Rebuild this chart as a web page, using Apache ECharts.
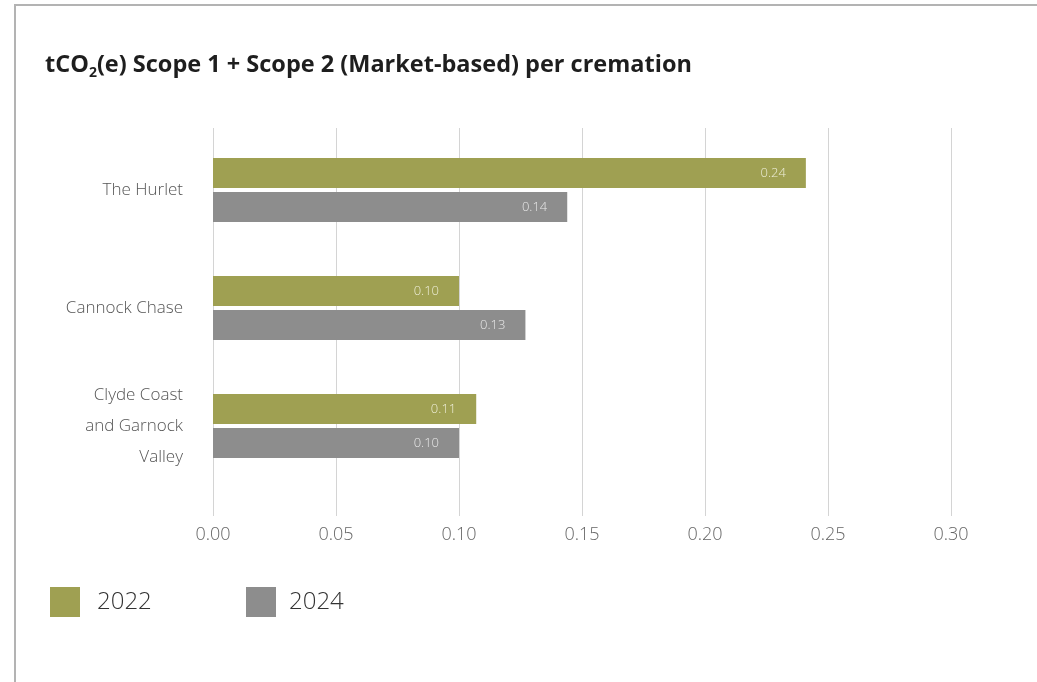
<!DOCTYPE html>
<html><head><meta charset="utf-8">
<script src="https://cdn.jsdelivr.net/npm/echarts@6/dist/echarts.min.js"></script>
<style>html,body{margin:0;padding:0;background:#fff}#c{width:1037px;height:682px}</style>
</head><body><div id="c"></div>
<script>
const categories = ['The Hurlet', 'Cannock Chase', 'Clyde Coast\nand Garnock\nValley'];
const values2022 = [0.241, 0.100, 0.107];
const values2024 = [0.144, 0.127, 0.100];
const seriesNames = ['2022', '2024'];
const xTicks = [0, 0.05, 0.10, 0.15, 0.20, 0.25, 0.30];
const colors = ['#9fa052', '#8d8d8d'];
const FONT = '"Open Sans", "DejaVu Sans", sans-serif';

const chart = echarts.init(document.getElementById('c'));
const labelCfg = (c) => ({
  show: true, position: 'insideRight', distance: 20,
  formatter: p => p.value.toFixed(2),
  color: c, fontSize: 13, fontFamily: FONT, fontWeight: 300
});
chart.setOption({
  animation: false,
  title: {
    text: '{a|tCO}{s|2}{a|(e) Scope 1 + Scope 2 (Market-based) per cremation}',
    left: 40, top: 45,
    textStyle: { rich: {
      a: { fontSize: 23.5, fontWeight: 'bold', color: '#1e1e1e', fontFamily: FONT },
      s: { fontSize: 14, fontWeight: 'bold', color: '#1e1e1e', fontFamily: FONT, padding: [16, 0, 0, 0] }
    }}
  },
  legend: [
    { data: [seriesNames[0]], left: 50, top: 587, padding: 0, itemWidth: 30, itemHeight: 30, icon: 'rect',
      textStyle: { fontSize: 24, color: '#333', fontFamily: FONT, fontWeight: 300, padding: [0,0,0,12] } },
    { data: [seriesNames[1]], left: 246, top: 587, padding: 0, itemWidth: 30, itemHeight: 30, icon: 'rect',
      textStyle: { fontSize: 24, color: '#333', fontFamily: FONT, fontWeight: 300, padding: [0,0,0,8] } }
  ],
  grid: [
    { left: 213, right: 86, top: 128, height: 388 },
    { left: 213, right: 86, top: 131, height: 354 }
  ],
  xAxis: [
    { type: 'value', gridIndex: 0, min: 0, max: 0.30, interval: 0.05,
      axisLine: { show: false }, axisTick: { show: false },
      splitLine: { lineStyle: { color: '#d4d4d4', width: 1 } },
      axisLabel: { formatter: v => v.toFixed(2), fontSize: 18, color: '#666', fontFamily: FONT, fontWeight: 300, margin: 10 } },
    { type: 'value', gridIndex: 1, min: 0, max: 0.30, interval: 0.05, show: false }
  ],
  yAxis: [
    { type: 'category', gridIndex: 0, data: [''], show: false },
    { type: 'category', gridIndex: 1, data: categories, inverse: true,
      axisLine: { show: false }, axisTick: { show: false },
      axisLabel: { fontSize: 17, color: '#555', fontFamily: FONT, fontWeight: 300, margin: 30, lineHeight: 31, align: 'right' } }
  ],
  series: [
    { name: seriesNames[0], type: 'bar', xAxisIndex: 1, yAxisIndex: 1, data: values2022,
      barWidth: 30, barGap: '13%', itemStyle: { color: colors[0] }, label: labelCfg('#eeeed8') },
    { name: seriesNames[1], type: 'bar', xAxisIndex: 1, yAxisIndex: 1, data: values2024,
      barWidth: 30, barGap: '13%', itemStyle: { color: colors[1] }, label: labelCfg('#e8e8e8') }
  ],
  graphic: [
    { type: 'line', shape: { x1: 15, y1: 5, x2: 1037, y2: 5 }, style: { stroke: '#b3b3b3', lineWidth: 2 } },
    { type: 'line', shape: { x1: 15, y1: 4, x2: 15, y2: 682 }, style: { stroke: '#b3b3b3', lineWidth: 2 } }
  ]
});
</script></body></html>
